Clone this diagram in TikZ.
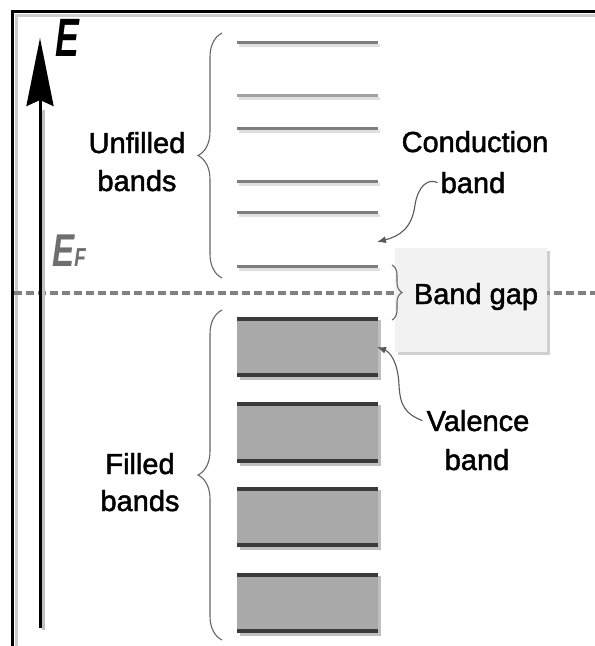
\documentclass[tikz,border=0pt]{standalone}
\usepackage{fontspec}
\setmainfont{Liberation Sans}
\newfontfamily\labfont{Liberation Sans}[BoldFont={Liberation Sans}, BoldFeatures={FakeBold=1.6}]
\usetikzlibrary{decorations.pathreplacing,arrows.meta,shadows}
\definecolor{ulines}{HTML}{7E7E7E}
\definecolor{ulines2}{HTML}{A2A2A2}
\definecolor{fillc}{HTML}{A9A9A9}
\definecolor{edgec}{HTML}{3A3A3A}
\definecolor{boxc}{HTML}{F2F2F2}
\definecolor{efc}{HTML}{6E6E6E}
\tikzset{
  lab/.style={font=\labfont\bfseries\fontsize{29}{34}\selectfont, inner sep=0pt, anchor=base},
  bline/.style={line width=3pt, draw=#1},
  bline/.default=ulines,
  edge/.style={line width=4pt, draw=edgec},
  brc/.style={decorate, decoration={brace, amplitude=#1, aspect=0.5}, draw=black!60, line width=1.1pt},
  brc/.default=24pt,
  conn/.style={line width=1.1pt, draw=black!65, -{Latex[length=9pt,width=7pt]}},
}
\begin{document}
\begin{tikzpicture}[x=1pt,y=-1pt]
\useasboundingbox (0,0) rectangle (595,646);
\fill[white] (0,0) rectangle (595,646);
% frame
\draw[black!20, line width=3pt] (16,646) -- (16,15) -- (595,15);
\draw[line width=3pt] (12,646) -- (12,11) -- (595,11);
% Fermi level dashed line
\draw[line width=3.5pt, draw=black!50, dash pattern=on 8pt off 4pt] (14,293) -- (595,293);
% unfilled bands
\foreach \y/\c in {42/ulines, 95/ulines2, 128/ulines, 181/ulines, 212/ulines, 266/ulines}{
  \draw[black!12, line width=3pt] (239,\y+3) -- (380,\y+3);
  \draw[bline=\c] (237,\y) -- (378,\y);
}
% filled bands
\foreach \t/\b in {317/377, 402/463, 487/547, 573/633}{
  \fill[black!25] (240,\t+3) rectangle (381,\b+3);
  \fill[fillc] (237,\t) rectangle (378,\b);
  \draw[edge] (237,\t+2) -- (378,\t+2);
  \draw[edge] (237,\b-2) -- (378,\b-2);
}
% energy axis
\coordinate (axb) at (40,628);
\coordinate (axt) at (40,38);
\draw[black!25, line width=3pt] (43,630) -- (43,110);
\draw[line width=3pt, -{Stealth[length=68pt,width=27pt,inset=6pt]}] (axb) -- (axt);
\node[anchor=base, inner sep=0pt, font=\bfseries\itshape\fontsize{54}{58}\selectfont] (E) at (67,56) {\scalebox{0.66}[1]{E}};
\node[anchor=base west, inner sep=0pt, text=efc] (EF) at (52,266) {\scalebox{0.72}[1]{\bfseries\itshape\fontsize{46}{50}\selectfont E\fontsize{26}{30}\selectfont F}};
% band gap box
\node[fill=boxc, minimum width=152pt, minimum height=104pt, inner sep=0pt, anchor=north west,
      drop shadow={shadow xshift=3pt, shadow yshift=-3pt, fill=black!30, opacity=0.6}] (gapbox) at (395,248) {};
\node[lab] (gap) at (476,304) {Band gap};
% braces
\draw[brc] (222,278) -- (222,33);
\draw[brc] (222,640) -- (222,310);
\draw[brc=10pt] (392,265) -- (392,320);
% labels
\node[lab] (unf1) at (137,153) {Unfilled};
\node[lab] (unf2) at (137,191) {bands};
\node[lab] (cond1) at (475,152) {Conduction};
\node[lab] (cond2) at (473,193) {band};
\node[lab] (val1) at (478,431) {Valence};
\node[lab] (val2) at (477,470) {band};
\node[lab] (fil1) at (140,474) {Filled};
\node[lab] (fil2) at (140,511) {bands};
% connectors
\coordinate (cb) at (377,242);
\coordinate (vb) at (377,347);
\draw[conn] ([xshift=-3pt]cond2.west) .. controls (428,178) and (418,186) .. (415,205) .. controls (412,228) and (400,236) .. (cb);
\draw[conn] ([xshift=-4pt]val1.west) .. controls (405,414) and (400,405) .. (399,385) .. controls (398,362) and (390,352) .. (vb);
\end{tikzpicture}
\end{document}
